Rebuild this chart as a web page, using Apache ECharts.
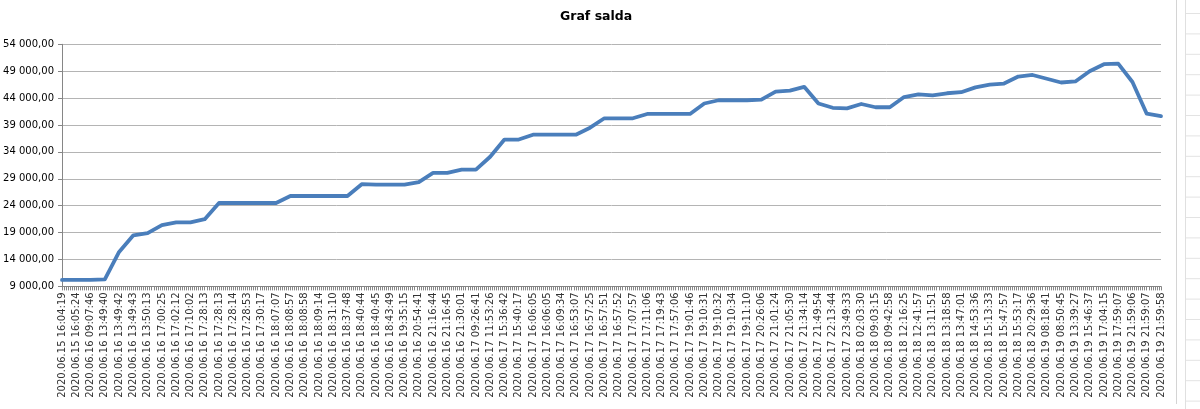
<!DOCTYPE html>
<html>
<head>
<meta charset="utf-8">
<script src="https://cdn.jsdelivr.net/npm/echarts@6/dist/echarts.min.js"></script>
<style>
html,body{margin:0;padding:0;background:#fff;}
#chart{width:1200px;height:409px;}
</style>
</head>
<body>
<div id="chart"></div>
<script>
const titleText = 'Graf salda';
const categories = [
'2020.06.15 16:04:19','2020.06.15 16:05:24','2020.06.16 09:07:46','2020.06.16 13:49:40','2020.06.16 13:49:42',
'2020.06.16 13:49:43','2020.06.16 13:50:13','2020.06.16 17:00:25','2020.06.16 17:02:12','2020.06.16 17:10:02',
'2020.06.16 17:28:13','2020.06.16 17:28:13','2020.06.16 17:28:14','2020.06.16 17:28:53','2020.06.16 17:30:17',
'2020.06.16 18:07:07','2020.06.16 18:08:57','2020.06.16 18:08:58','2020.06.16 18:09:14','2020.06.16 18:31:10',
'2020.06.16 18:37:48','2020.06.16 18:40:44','2020.06.16 18:40:45','2020.06.16 18:43:49','2020.06.16 19:35:15',
'2020.06.16 20:54:41','2020.06.16 21:16:44','2020.06.16 21:16:45','2020.06.16 21:30:01','2020.06.17 09:26:41',
'2020.06.17 11:53:26','2020.06.17 15:36:42','2020.06.17 15:40:17','2020.06.17 16:06:05','2020.06.17 16:06:05',
'2020.06.17 16:09:34','2020.06.17 16:53:07','2020.06.17 16:57:25','2020.06.17 16:57:51','2020.06.17 16:57:52',
'2020.06.17 17:07:57','2020.06.17 17:11:06','2020.06.17 17:19:43','2020.06.17 17:57:06','2020.06.17 19:01:46',
'2020.06.17 19:10:31','2020.06.17 19:10:32','2020.06.17 19:10:34','2020.06.17 19:11:10','2020.06.17 20:26:06',
'2020.06.17 21:01:24','2020.06.17 21:05:30','2020.06.17 21:34:14','2020.06.17 21:49:54','2020.06.17 22:13:44',
'2020.06.17 23:49:33','2020.06.18 02:03:30','2020.06.18 09:03:15','2020.06.18 09:42:58','2020.06.18 12:16:25',
'2020.06.18 12:41:57','2020.06.18 13:11:51','2020.06.18 13:18:58','2020.06.18 13:47:01','2020.06.18 14:53:36',
'2020.06.18 15:13:33','2020.06.18 15:47:57','2020.06.18 15:53:17','2020.06.18 20:29:36','2020.06.19 08:18:41',
'2020.06.19 08:50:45','2020.06.19 13:39:27','2020.06.19 15:46:37','2020.06.19 17:04:15','2020.06.19 17:59:07',
'2020.06.19 21:59:06','2020.06.19 21:59:07','2020.06.19 21:59:58'
];
const saldo = [
10200,10200,10200,10300,15400,18500,18900,20400,20900,20900,
21500,24500,24500,24500,24500,24500,25800,25800,25800,25800,
25800,28000,27900,27900,27900,28400,30100,30100,30700,30700,
33100,36300,36300,37200,37200,37200,37200,38500,40250,40250,
40250,41050,41050,41050,41050,43000,43600,43600,43600,43700,
45200,45400,46100,43000,42200,42100,42900,42300,42300,44200,
44700,44500,44900,45100,46000,46500,46700,48000,48300,47600,
46900,47100,49000,50300,50400,47000,41100,40650
];
const yMin = 9000, yMax = 54000, yStep = 5000;

function fmt(v){
  const s = Math.round(v).toString().replace(/\B(?=(\d{3})+(?!\d))/g,' ');
  return s + ',00';
}

const chart = echarts.init(document.getElementById('chart'), null, {renderer:'canvas'});
const sheetLines = [];
sheetLines.push({type:'line', shape:{x1:1176.5,y1:0,x2:1176.5,y2:404}, style:{stroke:'#d4d4d4',lineWidth:1}, silent:true});
sheetLines.push({type:'line', shape:{x1:1185.5,y1:0,x2:1185.5,y2:409}, style:{stroke:'#e0e0e0',lineWidth:1}, silent:true});
for (let k=0;k<20;k++){
  const yy = 13.5 + k*20.4;
  sheetLines.push({type:'line', shape:{x1:1186,y1:yy,x2:1200,y2:yy}, style:{stroke:'#e3e3e3',lineWidth:1}, silent:true});
}

chart.setOption({
  animation:false,
  backgroundColor:'#ffffff',
  title:{
    text:titleText, left:555, top:5,
    textStyle:{fontFamily:'DejaVu Sans', fontSize:12.5, fontWeight:'bold', color:'#000'}
  },
  grid:{left:62, right:39, top:44.3, bottom:122.6, containLabel:false},
  xAxis:[{
    type:'category', data:categories, boundaryGap:false,
    axisLine:{show:true, lineStyle:{color:'#868686', width:1}},
    axisTick:{show:false},
    axisLabel:{interval:0, rotate:90, margin:6, fontFamily:'DejaVu Sans', fontSize:10, color:'#333333'},
    splitLine:{show:false}
  },{
    type:'value', position:'bottom', min:0, max:categories.length-1, interval:1,
    axisLine:{show:false},
    axisTick:{show:true, length:4, lineStyle:{color:'#868686'}},
    minorTick:{show:true, splitNumber:7, length:4, lineStyle:{color:'#868686'}},
    axisLabel:{show:false}, splitLine:{show:false}
  }],
  yAxis:{
    type:'value', min:yMin, max:yMax, interval:yStep,
    axisLine:{show:true, lineStyle:{color:'#868686', width:1}},
    axisTick:{show:true, length:4, lineStyle:{color:'#868686'}},
    axisLabel:{margin:8, fontFamily:'DejaVu Sans', fontSize:10, color:'#000', formatter:fmt},
    splitLine:{show:true, lineStyle:{color:'#b4b4b4', width:1}}
  },
  series:[{
    type:'line', data:saldo, xAxisIndex:0, showSymbol:false, symbol:'none',
    lineStyle:{color:'#4a7ebb', width:3.8, cap:'round', join:'round'},
    z:5
  }],
  graphic:sheetLines
});
</script>
</body>
</html>
